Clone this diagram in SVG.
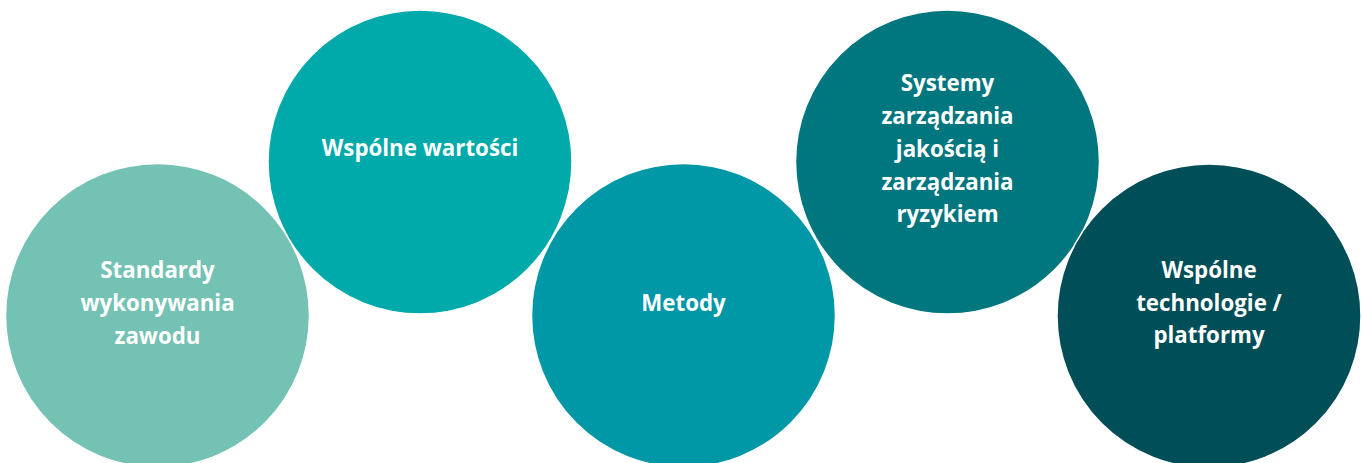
<svg xmlns="http://www.w3.org/2000/svg" width="1363" height="463" viewBox="0 0 1363 463">
<style>
.c{stroke:#ffffff;stroke-width:1.5}
.t{font-family:"Open Sans","Liberation Sans",Arial,sans-serif;font-weight:bold;font-size:22.3px;fill:#ffffff;text-anchor:middle}
</style>
<rect width="1363" height="463" fill="#ffffff"/>
<g id="connectors"/>
<g id="node-standardy">
<circle class="c" cx="157.5" cy="315.5" r="152" fill="#74C2B4"/>
<text class="t" x="157.5" y="278">Standardy</text>
<text class="t" x="157.5" y="311">wykonywania</text>
<text class="t" x="157.5" y="344">zawodu</text>
</g>
<g id="node-wartosci">
<circle class="c" cx="420" cy="162" r="152" fill="#00AAAA"/>
<text class="t" x="420" y="156">Wspólne wartości</text>
</g>
<g id="node-metody">
<circle class="c" cx="683.5" cy="315.5" r="152" fill="#0097A7"/>
<text class="t" x="683.5" y="311">Metody</text>
</g>
<g id="node-systemy">
<circle class="c" cx="947.5" cy="162" r="152" fill="#00767E"/>
<text class="t" x="947.5" y="91">Systemy</text>
<text class="t" x="947.5" y="124">zarządzania</text>
<text class="t" x="947.5" y="157">jakością i</text>
<text class="t" x="947.5" y="189.5">zarządzania</text>
<text class="t" x="947.5" y="222">ryzykiem</text>
</g>
<g id="node-technologie">
<circle class="c" cx="1209" cy="316" r="152" fill="#004E57"/>
<text class="t" x="1209" y="277.5">Wspólne</text>
<text class="t" x="1209" y="310.5">technologie /</text>
<text class="t" x="1209" y="343">platformy</text>
</g>
</svg>
